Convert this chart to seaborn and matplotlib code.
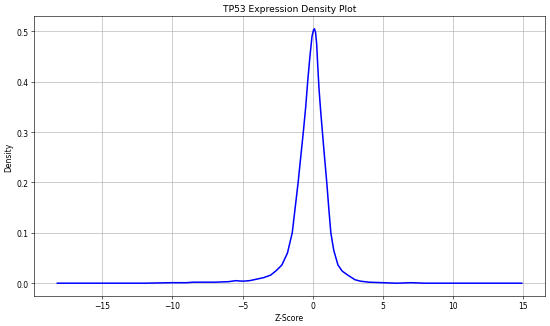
import seaborn as sns
from matplotlib import pyplot as plt
import pandas as pd

# density curve
z_score = [-18.2, -15, -12, -10, -9, -8.5, -8, -7, -6, -5.5, -5, -4.5, -4, -3.5,
           -3.0, -2.6, -2.2, -1.8, -1.46, -1.25, -1.04, -0.82, -0.67, -0.5,
           -0.36, -0.2, -0.05, 0.05, 0.12, 0.2, 0.28, 0.36, 0.45, 0.57, 0.69,
           0.81, 1.0, 1.14, 1.29, 1.5, 1.8, 2.1, 2.5, 3.0, 3.4, 4.0, 5.0, 6.0,
           7.0, 8.0, 10, 12, 14.9]
density = [0.0, 0.0, 0.0, 0.001, 0.001, 0.002, 0.002, 0.002, 0.003, 0.005, 0.004,
           0.005, 0.008, 0.011, 0.016, 0.025, 0.036, 0.06, 0.1, 0.15, 0.2, 0.26,
           0.3, 0.35, 0.4, 0.45, 0.49, 0.502, 0.505, 0.498, 0.475, 0.43, 0.385,
           0.34, 0.3, 0.26, 0.2, 0.15, 0.1, 0.065, 0.036, 0.024, 0.016, 0.007,
           0.004, 0.002, 0.001, 0.0, 0.001, 0.0, 0.0, 0.0, 0.0]

df = pd.DataFrame({'Z-Score': z_score, 'Density': density})

fig, ax = plt.subplots(figsize=(10, 5.945), dpi=55)
sns.lineplot(data=df, x='Z-Score', y='Density', color='blue', linewidth=2, ax=ax)

ax.set_title('TP53 Expression Density Plot')
ax.set_xlabel('Z-Score')
ax.set_ylabel('Density')
ax.grid(True)

plt.subplots_adjust(left=0.062, right=0.991, top=0.948, bottom=0.092)
plt.savefig('out.png', dpi=55)
